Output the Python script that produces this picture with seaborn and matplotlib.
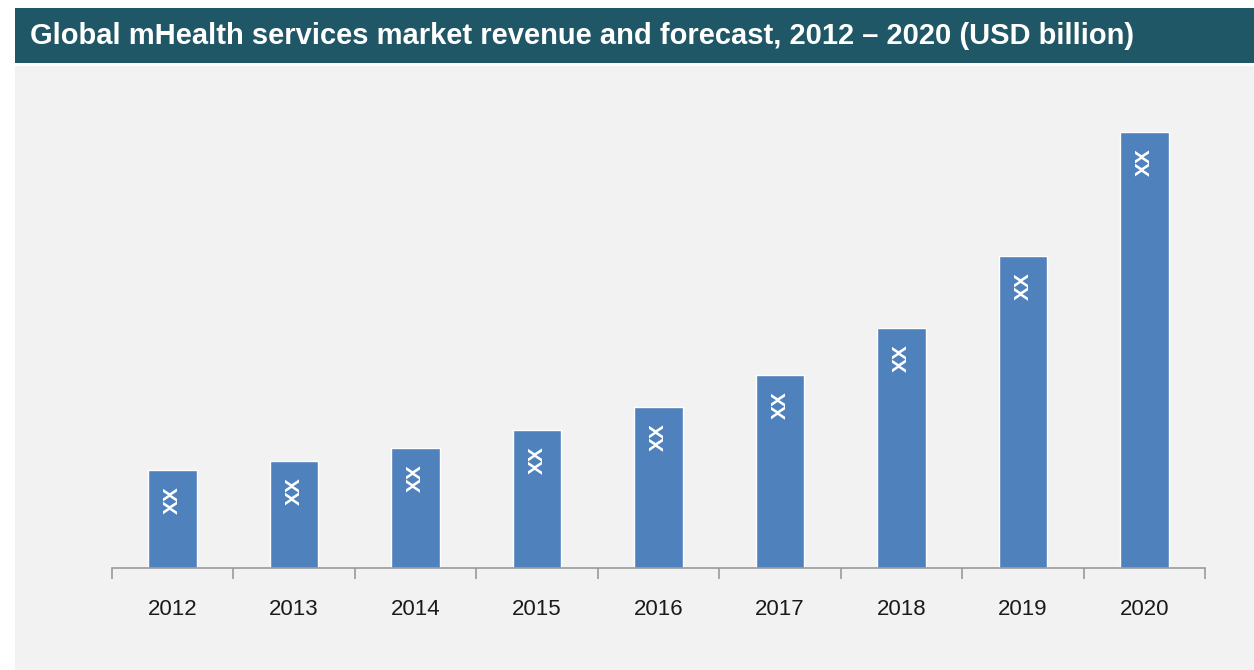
import matplotlib
matplotlib.use("Agg")
import matplotlib.pyplot as plt
import seaborn as sns
import pandas as pd
from matplotlib.patches import Rectangle

years = ["2012", "2013", "2014", "2015", "2016", "2017", "2018", "2019", "2020"]
revenue = [9.8, 10.7, 12.0, 13.8, 16.1, 19.3, 24.0, 31.2, 43.6]
bar_labels = ["XX"] * 9
title = "Global mHealth services market revenue and forecast, 2012 \u2013 2020 (USD billion)"

df = pd.DataFrame({"year": years, "revenue": revenue})

sns.set_theme(style="white")
plt.rcParams["font.family"] = ["Liberation Sans", "DejaVu Sans"]

W, H = 1254, 670
fig = plt.figure(figsize=(W / 100, H / 100), dpi=100)
fig.patch.set_facecolor("white")

# panel background
fig.patches.append(Rectangle((15 / W, 0), 1 - 15 / W, (H - 66) / H,
                             transform=fig.transFigure, facecolor="#f2f2f2",
                             edgecolor="none", zorder=-10))
# title bar
fig.patches.append(Rectangle((15 / W, (H - 63) / H), 1 - 15 / W, 55 / H,
                             transform=fig.transFigure, facecolor="#1f5766",
                             edgecolor="none", zorder=-10))
fig.text(30 / W, (H - 36) / H, title, color="white", fontsize=21,
         fontweight="bold", va="center", ha="left")

ax = fig.add_axes([112 / W, (H - 568) / H, (1205 - 112) / W, (568 - 67) / H])
ax.set_zorder(1)
ax.set_facecolor("none")
sns.barplot(data=df, x="year", y="revenue", color="#4f81bd", saturation=1,
            width=0.4, ax=ax)
ax.set_ylim(0, 50.1)
ax.set_xlim(-0.5, len(years) - 0.5)
for s in ["top", "right", "left"]:
    ax.spines[s].set_visible(False)
ax.spines["bottom"].set_color("#9a9a9a")
ax.spines["bottom"].set_linewidth(1.2)
ax.set_yticks([])
ax.set_xlabel("")
ax.set_ylabel("")

ax.set_xticks([i for i in range(len(years))])
ax.set_xticklabels(years, fontsize=16, color="#1a1a1a")
ax.tick_params(axis="x", which="major", length=0, pad=22)
# minor ticks at category boundaries
ax.set_xticks([i - 0.5 for i in range(len(years) + 1)], minor=True)
ax.tick_params(axis="x", which="minor", bottom=True, length=8, width=1.2,
               color="#9a9a9a", direction="out")

for i, (v, lab) in enumerate(zip(revenue, bar_labels)):
    ax.annotate(lab, (i, v), xytext=(0, -22), textcoords="offset points",
                ha="center", va="center", rotation=90, color="white",
                fontsize=15, fontweight="bold")

fig.savefig("out.png", dpi=100, facecolor="white")
